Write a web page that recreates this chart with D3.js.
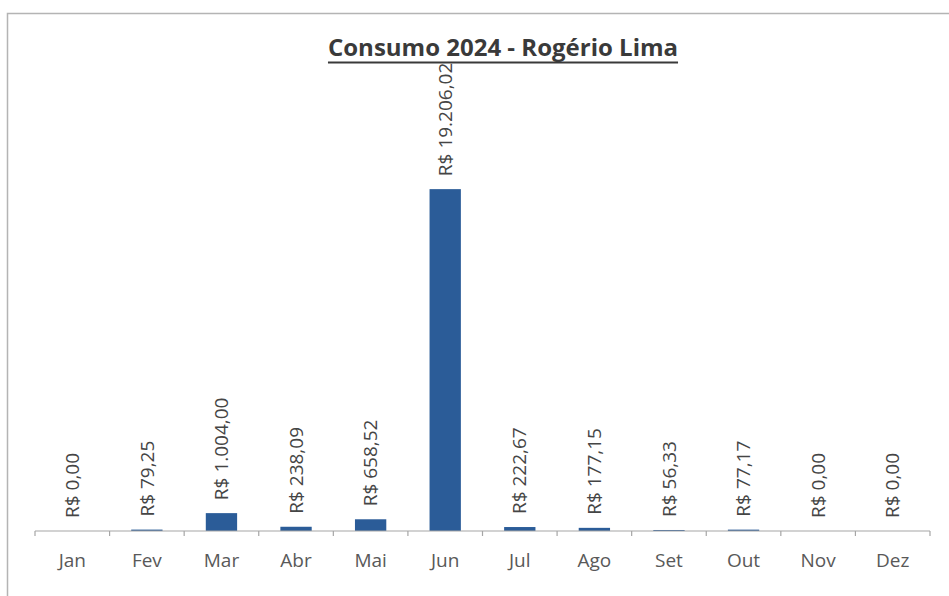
<!DOCTYPE html>
<html>
<head>
<meta charset="utf-8">
<script src="https://cdn.jsdelivr.net/npm/d3@7"></script>
<style>
	body { margin: 0; background: #fff; }
	svg { display: block; font-family: "Open Sans", sans-serif; }
</style>
</head>
<body>
<div id="chart"></div>
<script>

// data
const months = ["Jan", "Fev", "Mar", "Abr", "Mai", "Jun", "Jul", "Ago", "Set", "Out", "Nov", "Dez"];
const values = [0, 79.25, 1004.00, 238.09, 658.52, 19206.02, 222.67, 177.15, 56.33, 77.17, 0, 0];
const chartTitle = "Consumo 2024 - Rogério Lima";

const W = 949, H = 596;
const margin = {top: 86, right: 19, bottom: 65, left: 35};

let brl = d3.formatLocale({
	decimal: ",",
	thousands: ".",
	grouping: [3],
	currency: ["R$ ", ""]
}).format("$,.2f");

let svg = d3.select("#chart").append("svg")
	.attr("width", W)
	.attr("height", H);

// chart frame (only top and left edges are in the picture)
svg.append("path")
	.attr("d", "M7.5," + H + "V13.5H" + W)
	.attr("fill", "none")
	.attr("stroke", "#b4b4b4")
	.attr("stroke-width", 1.5);

let g = svg.append("g")
	.attr("transform", "translate(" + margin.left + "," + margin.top + ")");

let width = W - margin.left - margin.right;
let height = H - margin.top - margin.bottom;

// Scales
let x = d3.scaleBand()
	.domain(months)
	.range([0, width])
	.padding(0);

let y = d3.scaleLinear()
	.domain([0, 25000])
	.range([height, 0]);

let barW = x.bandwidth() * 0.42;

// Bars
g.selectAll(".bar")
	.data(values)
	.enter().append("rect")
	.attr("class", "bar")
	.attr("x", (d, i) => x(months[i]) + (x.bandwidth() - barW) / 2)
	.attr("y", d => y(d))
	.attr("width", barW)
	.attr("height", d => height - y(d))
	.attr("fill", "#2b5c98");

// Value labels, rotated
g.selectAll(".bar-text")
	.data(values)
	.enter().append("text")
	.attr("class", "bar-text")
	.attr("transform", (d, i) => "translate(" + (x(months[i]) + x.bandwidth() / 2) + "," + (y(d) - 13) + ") rotate(-90)")
	.attr("dy", "0.35em")
	.attr("text-anchor", "start")
	.attr("font-size", "19px")
	.attr("fill", "#454545")
	.text(d => brl(d));

// x axis: baseline with ticks at category boundaries
let axis = g.append("g")
	.attr("class", "x-axis")
	.attr("transform", "translate(0," + height + ")");

axis.append("line")
	.attr("x1", 0)
	.attr("x2", width)
	.attr("stroke", "#a6a6a6")
	.attr("stroke-width", 1.2);

let bounds = months.map(m => x(m)).concat([width]);
axis.selectAll(".tick-line")
	.data(bounds)
	.enter().append("line")
	.attr("class", "tick-line")
	.attr("x1", d => d)
	.attr("x2", d => d)
	.attr("y1", 0)
	.attr("y2", 5)
	.attr("stroke", "#a6a6a6")
	.attr("stroke-width", 1.2);

axis.selectAll(".tick-label")
	.data(months)
	.enter().append("text")
	.attr("class", "tick-label")
	.attr("x", d => x(d) + x.bandwidth() / 2)
	.attr("y", 36)
	.attr("text-anchor", "middle")
	.attr("font-size", "19px")
	.attr("fill", "#595959")
	.text(d => d);

// Title, underlined
let title = svg.append("text")
	.attr("x", 503)
	.attr("y", 56)
	.attr("text-anchor", "middle")
	.attr("font-size", "24px")
	.attr("font-weight", "bold")
	.attr("fill", "#3a3a3a")
	.text(chartTitle);

let tb = title.node().getBBox();
svg.append("line")
	.attr("x1", tb.x)
	.attr("x2", tb.x + tb.width)
	.attr("y1", 62.5)
	.attr("y2", 62.5)
	.attr("stroke", "#3a3a3a")
	.attr("stroke-width", 2);

</script>
</body>
</html>
